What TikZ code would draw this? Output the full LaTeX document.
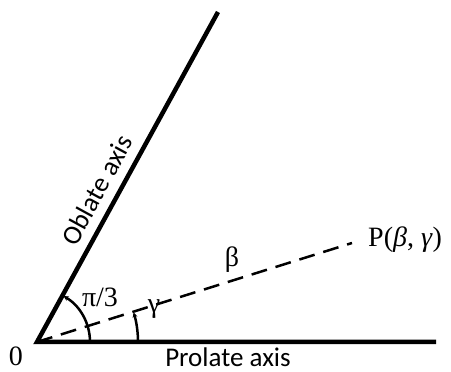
\documentclass[tikz,border=0pt]{standalone}
\usepackage{fontspec}
\setmainfont{Liberation Serif}
\newfontfamily\carl{Carlito}
\usetikzlibrary{arrows.meta,calc}
\begin{document}
\begin{tikzpicture}[x=1pt,y=1pt,
  axisline/.style={line width=4.5pt,line join=miter},
  dashline/.style={line width=2.5pt,dash pattern=on 16pt off 9pt},
  anglearc/.style={line width=2.5pt,-{Stealth[length=5pt,width=5pt]}},
  axlabel/.style={font=\carl\fontsize{27}{30}\selectfont,inner sep=0pt},
  symlabel/.style={font=\fontsize{28}{32}\selectfont,inner sep=0pt}]
\useasboundingbox (0,0) rectangle (451,372);
\coordinate (O) at (37,30);
\coordinate (Pe) at (436,30);
\coordinate (Oe) at (218,360);
\coordinate (De) at (352,129);
\draw[axisline] (Oe) -- (O) -- (Pe);
\draw[dashline] (O) -- (De);
\draw[anglearc] ($(O)+(53,0)$) arc[start angle=0,end angle=60,radius=53];
\draw[anglearc] ($(O)+(101,0)$) arc[start angle=0,end angle=17,radius=101];
\node[symlabel] (zero) at (16,16) {0};
\node[symlabel] (pi) at (100,75) {π/3};
\node[symlabel] (gam) at (154,63) {γ};
\node[symlabel] (bet) at (232,112) {β};
\node[symlabel,anchor=west] (P) at (368,132) {P(\textit{β}, \textit{γ})};
\node[axlabel] (prol) at (228,15) {Prolate axis};
\node[axlabel,rotate=61.3] (obl) at (97,182) {Oblate axis};
\end{tikzpicture}
\end{document}
